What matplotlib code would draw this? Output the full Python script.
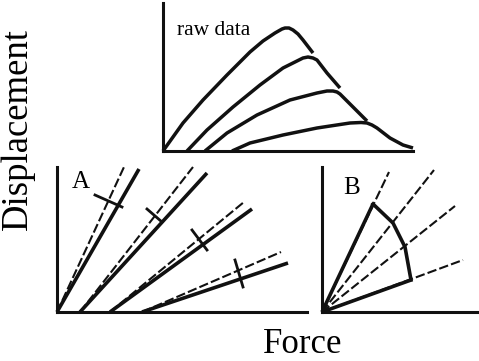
import matplotlib
matplotlib.use("Agg")
import matplotlib.pyplot as plt

plt.rcParams['font.family'] = ['Liberation Serif', 'DejaVu Serif']

W_PX, H_PX, DPI = 479, 361, 100

# ---- raw force/displacement traces (top panel, local units) ----
raw_curves = [
    ([0, 20, 40, 64, 87, 100, 112, 119, 122, 126, 130, 135, 140, 150],
     [0, 28, 51, 76, 99, 110, 118, 122, 123, 123, 121, 117, 111, 98]),
    ([24, 44, 70, 97, 120, 132, 140, 145, 150, 154, 164, 177],
     [0, 21, 44, 66, 83, 89, 93, 94, 93, 91, 78, 63]),
    ([42, 64, 94, 127, 154, 164, 170, 174, 177, 190, 204],
     [0, 18, 36, 51, 58, 60, 60, 59, 57, 44, 30]),
    ([69, 87, 120, 154, 187, 198, 204, 209, 214, 227, 240, 250],
     [0, 8, 16, 23, 28, 28.5, 28, 26, 23, 13, 6, 3]),
]

# ---- panel A: fitted stiffness lines (dashed) vs. secant lines (solid) ----
a_origin_x = [0, 23, 53, 85]
a_dashed_end = [(67, 145), (136, 145), (187, 110), (224, 60)]
a_solid_end = [(82, 143), (150, 139), (195, 103), (231, 49)]
a_marks = [((38, 117), (65, 105)), ((90, 103), (105, 90)),
           ((135, 82), (150, 62)), ((178, 52), (186, 25))]

# ---- panel B: rays from the origin and the envelope through them ----
b_rays = [(67, 140), (112, 142), (133, 106), (141, 52)]
b_solid_rays = [(51, 108), (89, 32)]
b_env_x = [51, 71, 83, 89]
b_env_y = [108, 89, 65, 32]


def px_axes(fig, left, base, width, height):
    ax = fig.add_axes([left / W_PX, (H_PX - base) / H_PX,
                       width / W_PX, height / H_PX])
    ax.set_xlim(0, width)
    ax.set_ylim(0, height)
    ax.patch.set_alpha(0)
    for side in ('top', 'right'):
        ax.spines[side].set_visible(False)
    for side in ('left', 'bottom'):
        ax.spines[side].set_linewidth(2.2)
        ax.spines[side].set_color('#111111')
    ax.set_xticks([])
    ax.set_yticks([])
    return ax


fig = plt.figure(figsize=(W_PX / DPI, H_PX / DPI), dpi=DPI)
fig.patch.set_facecolor('white')

ink = '#111111'
solid_kw = dict(color=ink, lw=2.6, solid_capstyle='butt', clip_on=False)
dash_kw = dict(color=ink, lw=1.5, dashes=(4.5, 1.5), clip_on=False)

# top panel
ax_raw = px_axes(fig, 163, 151, 250, 148)
for xs, ys in raw_curves:
    ax_raw.plot(xs, ys, color=ink, lw=2.5, solid_joinstyle='round',
                solid_capstyle='butt', clip_on=False)
ax_raw.text(14, 116, 'raw data', fontsize=15.5, va='baseline', ha='left')

# panel A
ax_a = px_axes(fig, 57, 312, 250, 145)
for x0, de, se, mk in zip(a_origin_x, a_dashed_end, a_solid_end, a_marks):
    ax_a.plot([x0, de[0]], [0, de[1]], **dash_kw)
    ax_a.plot([x0, se[0]], [0, se[1]], **solid_kw)
    ax_a.plot([mk[0][0], mk[1][0]], [mk[0][1], mk[1][1]], color=ink,
              lw=2.0, clip_on=False)
ax_a.text(15, 124, 'A', fontsize=18, va='baseline', ha='left')

# panel B
ax_b = px_axes(fig, 322, 312, 156, 145)
for ex, ey in b_rays:
    ax_b.plot([0, ex], [0, ey], **dash_kw)
for ex, ey in b_solid_rays:
    ax_b.plot([0, ex], [0, ey], **solid_kw)
ax_b.plot(b_env_x, b_env_y, color=ink, lw=2.6, solid_joinstyle='round',
          clip_on=False)
ax_b.text(21, 118, 'B', fontsize=18, va='baseline', ha='left')

# shared axis titles
fig.text(18 / W_PX, 1 - 129 / H_PX, 'Displacement', rotation=90,
         ha='center', va='center', fontsize=26.5)
fig.text(303 / W_PX, 1 - 353 / H_PX, 'Force', ha='center', va='baseline',
         fontsize=25)

fig.savefig('out.png', dpi=DPI, facecolor='white')
